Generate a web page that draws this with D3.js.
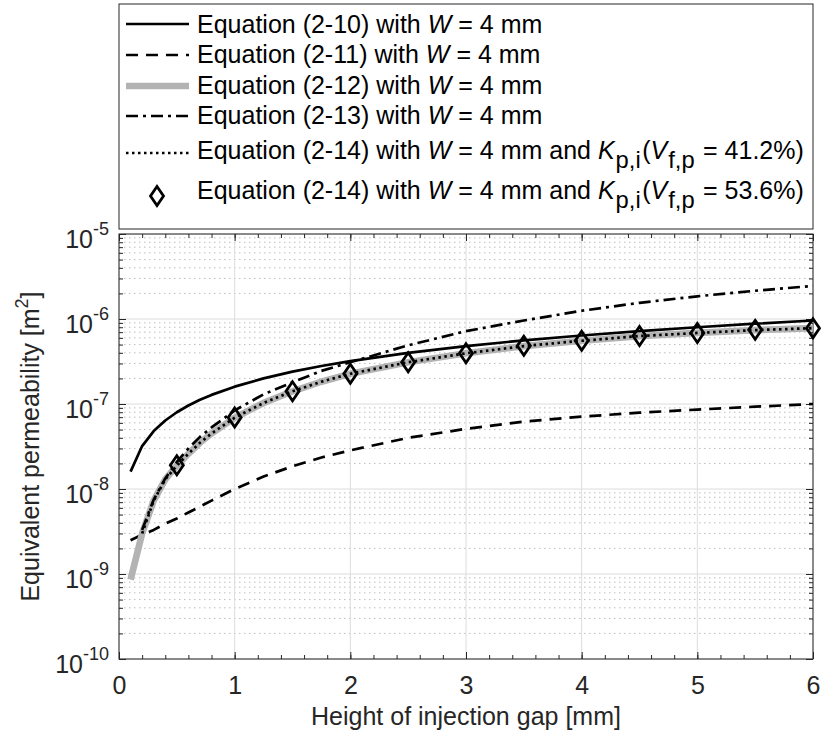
<!DOCTYPE html>
<html><head><meta charset="utf-8">
<script src="https://cdn.jsdelivr.net/npm/d3@7"></script>
<style>
body{margin:0;background:#fff}
text{font-family:"Liberation Sans",Arial,Helvetica,sans-serif}
</style>
</head><body>
<svg id="chart" width="821" height="736"></svg>
<script>
// ---- data ----
const hAll = [0.1,0.2,0.3,0.4,0.5,0.6,0.7,0.8,1.0,1.25,1.5,1.75,2.0,2.5,3.0,3.5,4.0,4.5,5.0,5.5,6.0];
const eq210 = [1.6e-8,3.2e-8,4.8e-8,6.4e-8,8.0e-8,9.6e-8,1.12e-7,1.28e-7,1.6e-7,2.0e-7,2.4e-7,2.8e-7,3.2e-7,4.0e-7,4.8e-7,5.6e-7,6.4e-7,7.2e-7,8.0e-7,8.8e-7,9.6e-7];
const eq211 = [2.5e-9,2.9e-9,3.3e-9,3.9e-9,4.5e-9,5.3e-9,6.2e-9,7.3e-9,1.0e-8,1.4e-8,1.85e-8,2.35e-8,2.85e-8,4.0e-8,5.1e-8,6.2e-8,7.1e-8,7.9e-8,8.6e-8,9.3e-8,1.0e-7];
const eq212 = [8.6e-10,3.0e-9,7.3e-9,1.3e-8,1.88e-8,2.6e-8,3.5e-8,4.5e-8,6.9e-8,1.03e-7,1.41e-7,1.83e-7,2.27e-7,3.1e-7,3.95e-7,4.8e-7,5.55e-7,6.3e-7,6.85e-7,7.4e-7,7.8e-7];
const hDashDot = [0.2,0.3,0.4,0.5,0.6,0.7,0.8,1.0,1.25,1.5,1.75,2.0,2.5,3.0,3.5,4.0,4.5,5.0,5.5,6.0];
const eq213 = [3.3e-9,7.5e-9,1.33e-8,2.08e-8,3.0e-8,4.1e-8,5.3e-8,8.4e-8,1.3e-7,1.8e-7,2.45e-7,3.1e-7,4.9e-7,7.2e-7,9.6e-7,1.25e-6,1.55e-6,1.85e-6,2.15e-6,2.45e-6];
const hDotted = [0.2,0.3,0.4,0.5,0.6,0.7,0.8,1.0,1.25,1.5,1.75,2.0,2.5,3.0,3.5,4.0,4.5,5.0,5.5,6.0];
const eq214a = [3.0e-9,7.3e-9,1.3e-8,1.88e-8,2.6e-8,3.5e-8,4.5e-8,6.9e-8,1.03e-7,1.41e-7,1.83e-7,2.27e-7,3.1e-7,3.95e-7,4.8e-7,5.55e-7,6.3e-7,6.85e-7,7.4e-7,7.8e-7];
const hMarkers = [0.5,1.0,1.5,2.0,2.5,3.0,3.5,4.0,4.5,5.0,5.5,6.0];
const eq214b = [1.9e-8,6.95e-8,1.41e-7,2.27e-7,3.1e-7,3.95e-7,4.85e-7,5.55e-7,6.3e-7,6.85e-7,7.45e-7,7.8e-7];
const xTicks = [0,1,2,3,4,5,6];
const yTicks = [1e-10,1e-9,1e-8,1e-7,1e-6,1e-5];
const legendLabels = [
  "Equation (2-10) with ", "Equation (2-11) with ", "Equation (2-12) with ",
  "Equation (2-13) with ", "Equation (2-14) with ", "Equation (2-14) with "];
const legendVf = ["41.2%", "53.6%"];
const xLabel = "Height of injection gap [mm]";
const yLabel = "Equivalent permeability [m";

// ---- layout ----
const svg = d3.select("#chart");
const L = 119, R = 813, T = 234, B = 659;
const x = d3.scaleLinear().domain([0,6]).range([L,R]);
const y = d3.scaleLog().domain([1e-10,1e-5]).range([B,T]);
const axisCol = "#262626";
const FS = 25;

// grid
const g = svg.append("g");
const minorY = [];
for (let e=-10;e<-5;e++) for (let k=2;k<=9;k++) minorY.push(k*Math.pow(10,e));
g.selectAll(".ymin").data(minorY).join("line")
  .attr("x1",L).attr("x2",R).attr("y1",d=>y(d)).attr("y2",d=>y(d))
  .attr("stroke","#bdbdbd").attr("stroke-width",1).attr("stroke-dasharray","1.5,3.5");
g.selectAll(".ymaj").data(yTicks).join("line")
  .attr("x1",L).attr("x2",R).attr("y1",d=>y(d)).attr("y2",d=>y(d))
  .attr("stroke","#dcdcdc").attr("stroke-width",1);
g.selectAll(".xmaj").data(xTicks).join("line")
  .attr("x1",d=>x(d)).attr("x2",d=>x(d)).attr("y1",T).attr("y2",B)
  .attr("stroke","#dcdcdc").attr("stroke-width",1);

// axes
const xMinor = d3.range(0,6.001,0.2);
function styleAxis(sel){ sel.select(".domain").remove(); sel.selectAll("line").attr("stroke",axisCol); sel.selectAll("text").attr("fill",axisCol).attr("font-size",FS); }
svg.append("g").attr("transform",`translate(0,${B})`)
  .call(d3.axisBottom(x).tickValues(xMinor).tickSize(-4).tickFormat(""))
  .call(styleAxis);
svg.append("g").attr("transform",`translate(0,${T})`)
  .call(d3.axisTop(x).tickValues(xMinor).tickSize(-4).tickFormat(""))
  .call(styleAxis);
svg.append("g").attr("transform",`translate(0,${B})`)
  .call(d3.axisBottom(x).tickValues(xTicks).tickSize(-7).tickPadding(17).tickFormat(d3.format("d")))
  .call(styleAxis);
svg.append("g").attr("transform",`translate(0,${T})`)
  .call(d3.axisTop(x).tickValues(xTicks).tickSize(-7).tickFormat(""))
  .call(styleAxis);
svg.append("g").attr("transform",`translate(${L},0)`)
  .call(d3.axisLeft(y).tickValues(minorY).tickSize(-4).tickFormat(""))
  .call(styleAxis);
svg.append("g").attr("transform",`translate(${R},0)`)
  .call(d3.axisRight(y).tickValues(minorY).tickSize(-4).tickFormat(""))
  .call(styleAxis);
svg.append("g").attr("transform",`translate(${R},0)`)
  .call(d3.axisRight(y).tickValues(yTicks).tickSize(-7).tickFormat(""))
  .call(styleAxis);
const yAx = svg.append("g").attr("transform",`translate(${L},0)`)
  .call(d3.axisLeft(y).tickValues(yTicks).tickSize(-7).tickPadding(10).tickFormat(d=>"10"))
  .call(styleAxis);
yAx.selectAll(".tick text").each(function(d){
  const t = d3.select(this);
  t.text(null).attr("dy",null).attr("y",13.5).attr("x",-10);
  t.append("tspan").text("10");
  t.append("tspan").attr("dy",-13.5).attr("font-size",FS*0.72).text(String(Math.round(Math.log10(d))));
});
// box
svg.append("rect").attr("x",L).attr("y",T).attr("width",R-L).attr("height",B-T)
  .attr("fill","none").attr("stroke",axisCol).attr("stroke-width",1);

// labels
svg.append("text").attr("x",(L+R)/2).attr("y",725).attr("text-anchor","middle")
  .attr("font-size",FS).attr("fill",axisCol).text(xLabel);
const yl = svg.append("text").attr("transform",`translate(39,${(T+B)/2}) rotate(-90)`)
  .attr("text-anchor","middle").attr("font-size",FS).attr("fill",axisCol);
yl.append("tspan").text(yLabel);
yl.append("tspan").attr("dy",-11).attr("font-size",FS*0.72).text("2");
yl.append("tspan").attr("dy",11).text("]");

// series
const line = d3.line().x(d=>x(d[0])).y(d=>y(d[1]));
const plot = svg.append("g");
const zip = (a,b)=>a.map((v,i)=>[v,b[i]]);
const styles = [
  {data:zip(hAll,eq210), stroke:"#000", w:2.7, dash:null},
  {data:zip(hAll,eq211), stroke:"#000", w:2.7, dash:"12,8"},
  {data:zip(hAll,eq212), stroke:"#b3b3b3", w:6.7, dash:null},
  {data:zip(hDashDot,eq213), stroke:"#000", w:2.7, dash:"12,5,3,5"},
  {data:zip(hDotted,eq214a), stroke:"#000", w:2.7, dash:"2.5,3.5"},
];
styles.forEach(s=>{
  plot.append("path").datum(s.data).attr("d",line).attr("fill","none")
    .attr("stroke",s.stroke).attr("stroke-width",s.w)
    .attr("stroke-dasharray",s.dash).attr("stroke-linejoin","round");
});
const diamond = (cx,cy)=>`M${cx},${cy-9.5}L${cx+6.5},${cy}L${cx},${cy+9.5}L${cx-6.5},${cy}Z`;
plot.selectAll(".dm").data(zip(hMarkers,eq214b)).join("path")
  .attr("d",d=>diamond(x(d[0]),y(d[1]))).attr("fill","none")
  .attr("stroke","#000").attr("stroke-width",2.8);

// legend
const lg = svg.append("g");
lg.append("rect").attr("x",L).attr("y",4).attr("width",R-L).attr("height",225)
  .attr("fill","#fff").attr("stroke",axisCol).attr("stroke-width",1);
const rowBase = [32.5,63,93.5,124,158.5,198.5];
const rowLine = [24,55,86,116,153,196];
for (let i=0;i<5;i++){
  const s = styles[i];
  lg.append("line").attr("x1",126).attr("x2",189).attr("y1",rowLine[i]).attr("y2",rowLine[i])
    .attr("stroke",s.stroke).attr("stroke-width",s.w).attr("stroke-dasharray",s.dash);
}
lg.append("path").attr("d",diamond(157,rowLine[5])).attr("fill","none").attr("stroke","#000").attr("stroke-width",2.8);
const SUB = FS*0.95;
legendLabels.forEach((lab,i)=>{
  const t = lg.append("text").attr("x",197).attr("y",rowBase[i]).attr("font-size",FS).attr("fill","#000");
  t.append("tspan").text(lab);
  t.append("tspan").attr("font-style","italic").text("W");
  t.append("tspan").text(" = 4 mm");
  if (i>=4){
    t.append("tspan").text(" and ");
    t.append("tspan").attr("font-style","italic").text("K");
    t.append("tspan").attr("font-size",SUB).attr("dx",1).attr("dy",9).text("p,i");
    t.append("tspan").attr("dx",1.5).attr("dy",-9).text("(");
    t.append("tspan").attr("font-style","italic").text("V");
    t.append("tspan").attr("font-size",SUB).attr("dx",1).attr("dy",9).text("f,p");
    t.append("tspan").attr("dx",1.5).attr("dy",-9).text(" = " + legendVf[i-4] + ")");
  }
});
</script>
</body></html>
